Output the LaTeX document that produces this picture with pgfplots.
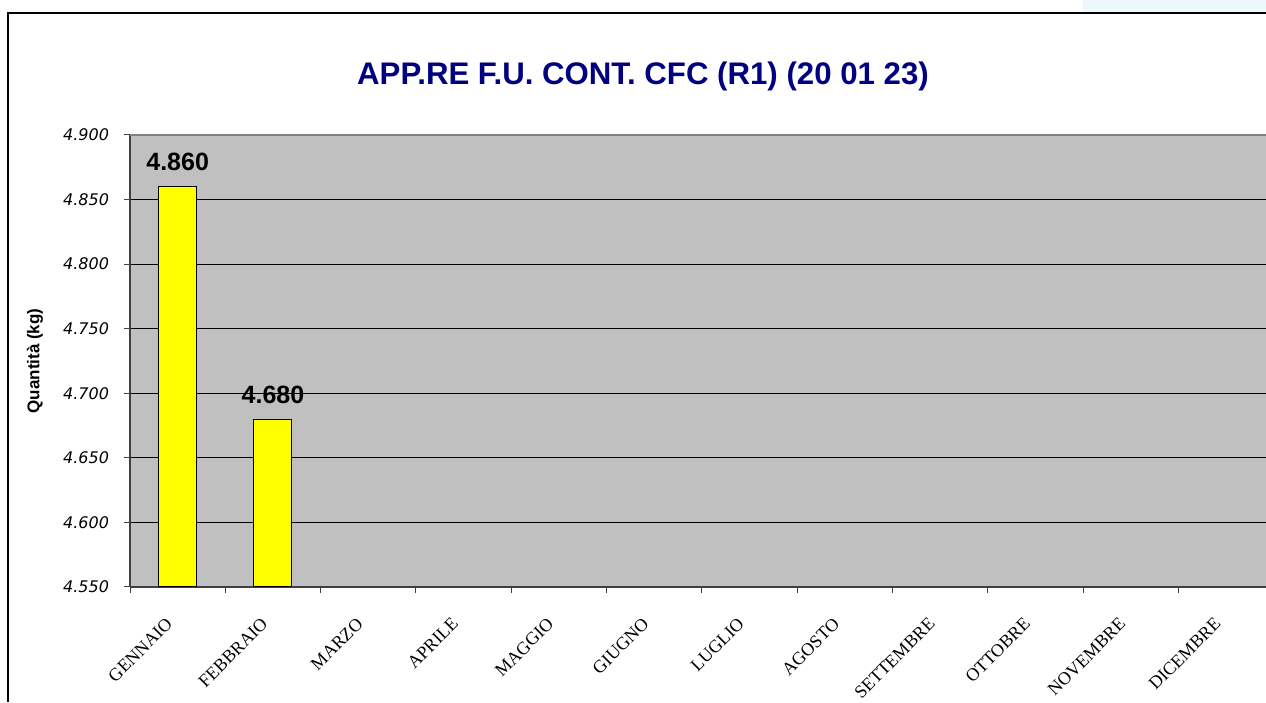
\documentclass[border=0pt]{standalone}
\usepackage{pgfplots}
\pgfplotsset{compat=1.18}
\usepackage{fontspec}
\setmainfont{Liberation Sans}
\newfontfamily\dejavu{DejaVu Sans}
\newfontfamily\timesf{Liberation Serif}
\definecolor{navytitle}{HTML}{000080}
\definecolor{graybg}{HTML}{C0C0C0}
\definecolor{axisgray}{HTML}{404040}
\definecolor{topgray}{HTML}{808080}
\definecolor{lightblue}{HTML}{EEF7FC}
\definecolor{baryellow}{HTML}{FFFF00}
\begin{document}
\begin{tikzpicture}[x=0.5bp,y=0.5bp]
\path[use as bounding box] (0,0) rectangle (1266,702);
\clip (0,0) rectangle (1266,702);
\fill[lightblue] (1083,690) rectangle (1266,702);
\draw[black, line width=0.75bp] (8,0) -- (8,689) -- (1266,689);
\node[anchor=base, font=\fontsize{15.6bp}{18bp}\selectfont\bfseries, text=navytitle] at (643,617.5) {APP.RE F.U. CONT. CFC (R1) (20 01 23)};
\begin{axis}[
  scale only axis,
  width=571.8bp, height=226bp,
  at={(65bp,57.5bp)}, anchor=south west,
  xmin=-0.5, xmax=11.5,
  ymin=4550, ymax=4900,
  ytick={4550,4600,4650,4700,4750,4800,4850,4900},
  scaled y ticks=false,
  /pgf/number format/.cd, fixed, precision=0, 1000 sep={.}, assume math mode=true,
  /pgfplots/.cd,
  axis x line*=bottom, axis y line*=left,
  axis line style={-, draw=axisgray, line width=0.75bp},
  axis background/.style={fill=graybg},
  ymajorgrids,
  major grid style={black, line width=0.5bp},
  tick align=outside,
  major tick length=3bp,
  tick style={axisgray, line width=0.5bp},
  y tick label style={font=\dejavu\itshape\fontsize{8bp}{10bp}\selectfont, xshift=-4bp},
  xtick={-0.5,0.5,1.5,2.5,3.5,4.5,5.5,6.5,7.5,8.5,9.5,10.5,11.5},
  xticklabels={,,,,,,,,,,,,},
  extra x ticks={0,1,2,3,4,5,6,7,8,9,10,11},
  extra x tick labels={GENNAIO,FEBBRAIO,MARZO,APRILE,MAGGIO,GIUGNO,LUGLIO,AGOSTO,SETTEMBRE,OTTOBRE,NOVEMBRE,DICEMBRE},
  extra x tick style={major tick length=0pt, grid=none,
    tick label style={rotate=45, anchor=north east, font=\timesf\fontsize{9bp}{10bp}\selectfont, yshift=-2.5bp, xshift=-11.5bp}},
  ylabel={Quantità (kg)},
  every axis y label/.style={at={(axis description cs:-0.0831,0.5)}, rotate=90, anchor=center, font=\bfseries\fontsize{8.5bp}{10bp}\selectfont},
  clip=true,
]
\addplot[ybar, bar width=19bp, fill=baryellow, draw=black, line width=0.5bp,
  nodes near coords,
  nodes near coords style={font=\bfseries\fontsize{12.5bp}{14bp}\selectfont, anchor=base, yshift=8bp}]
  coordinates {(0,4860) (1,4680)};
\draw[topgray, line width=0.75bp] (rel axis cs:0,1) -- (rel axis cs:1,1);
\end{axis}
\end{tikzpicture}
\end{document}
